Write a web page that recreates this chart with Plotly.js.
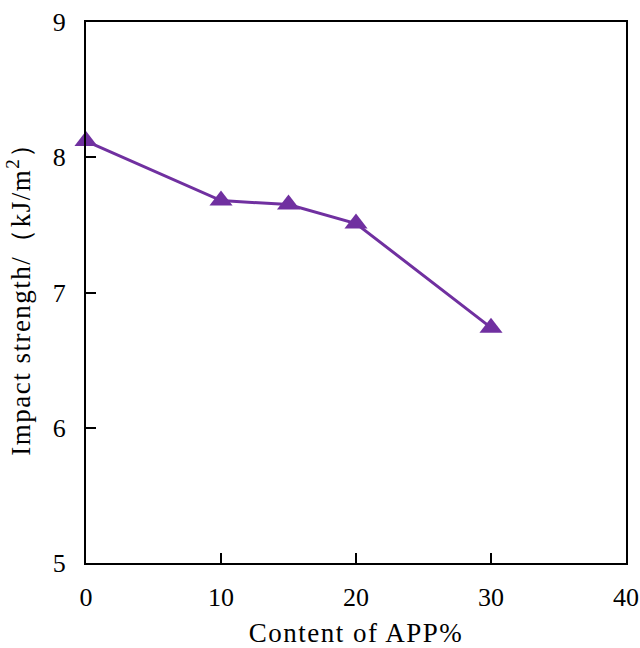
<!DOCTYPE html>
<html>
<head>
<meta charset="utf-8">
<script src="https://cdn.plot.ly/plotly-3.0.1.min.js"></script>
<style>
html,body{margin:0;padding:0;background:#fff;}
#chart{width:640px;height:648px;}
#chart .xtitle, #chart .ytitle{letter-spacing:1.5px;}
</style>
</head>
<body>
<div id="chart"></div>
<script>
const appContent = [0, 10, 15, 20, 30];
const impactStrength = [8.12, 7.68, 7.65, 7.51, 6.74];
const xTicks = [0, 10, 20, 30, 40];
const yTicks = [5, 6, 7, 8, 9];

const font = 'Liberation Serif, Times New Roman, serif';
const data = [{
  x: appContent,
  y: impactStrength,
  type: 'scatter',
  mode: 'lines+markers',
  line: {color: '#7030A0', width: 3},
  marker: {symbol: 'triangle-up', size: 20, color: '#7030A0'},
  cliponaxis: false,
  showlegend: false
}];
const layout = {
  width: 640, height: 648,
  margin: {l: 86, r: 14, t: 22, b: 85},
  paper_bgcolor: '#fff', plot_bgcolor: '#fff',
  font: {family: font, size: 26, color: '#000'},
  xaxis: {
    range: [0, 40], tickvals: xTicks, ticktext: xTicks.map(String),
    ticks: 'inside', ticklen: 10, tickwidth: 2, tickcolor: '#000',
    showline: true, linecolor: '#000', linewidth: 2, mirror: true,
    showgrid: false, zeroline: false, ticklabelstandoff: 10,
    tickfont: {family: font, size: 26},
    title: {text: 'Content of APP%', font: {family: font, size: 27}, standoff: 13}
  },
  yaxis: {
    range: [5, 9], tickvals: yTicks, ticktext: yTicks.map(String),
    ticks: 'inside', ticklen: 10, tickwidth: 2, tickcolor: '#000',
    showline: true, linecolor: '#000', linewidth: 2, mirror: true,
    showgrid: false, zeroline: false, ticklabelstandoff: 13,
    tickfont: {family: font, size: 26},
    title: {text: 'Impact strength/（kJ/m<sup>2</sup>）', font: {family: font, size: 27}, standoff: 14}
  }
};
Plotly.newPlot('chart', data, layout, {displayModeBar: false, staticPlot: true});
</script>
</body>
</html>
